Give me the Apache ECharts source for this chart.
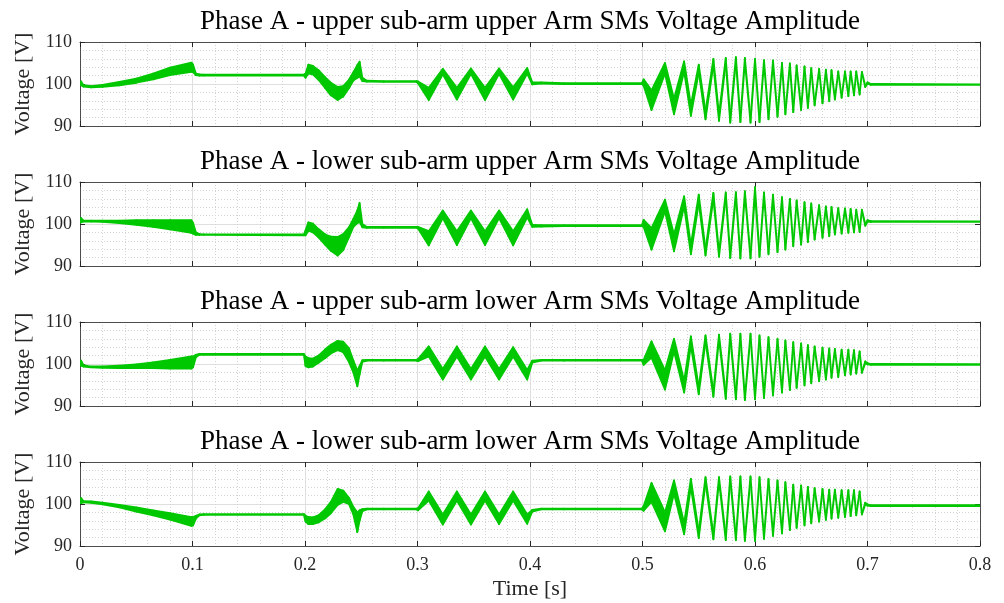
<!DOCTYPE html>
<html>
<head>
<meta charset="utf-8">
<script src="https://cdn.jsdelivr.net/npm/echarts@6/dist/echarts.min.js"></script>
<style>
html, body { margin: 0; padding: 0; background: #fff; }
#chart { width: 1004px; height: 603px; }
</style>
</head>
<body>
<div id="chart"></div>
<script>
// time keypoints (s), shared by the four panels: start ramp, 0.2 step, 0.3 step, 0.5 chirp (peaks/troughs), settle
var time = [
  0, 0.001, 0.003, 0.01, 0.02, 0.035, 0.05, 0.065, 0.08, 0.099, 0.1005, 0.103, 0.106, 0.11,
  0.199,
  0.2005, 0.203, 0.207, 0.212, 0.218, 0.223, 0.229, 0.234, 0.239, 0.243, 0.2465, 0.2485, 0.251, 0.255, 0.27,
  0.299, 0.3005, 0.31, 0.3225, 0.335, 0.3475, 0.36, 0.3725, 0.385, 0.3975, 0.402, 0.41, 0.43,
  0.4995, 0.501,
  0.508, 0.520, 0.528, 0.537, 0.543, 0.550, 0.556, 0.563, 0.568, 0.574,
  0.578, 0.583, 0.587, 0.591, 0.596, 0.600, 0.604, 0.608, 0.612, 0.616,
  0.620, 0.624, 0.627, 0.631, 0.634, 0.637, 0.641, 0.644, 0.647, 0.650,
  0.653, 0.657, 0.660, 0.663, 0.666, 0.668, 0.671, 0.674, 0.677, 0.680,
  0.683, 0.685, 0.688, 0.690, 0.693, 0.695,
  0.698, 0.700, 0.703, 0.8
];

var titles = [
  'Phase A - upper sub-arm upper Arm SMs Voltage Amplitude',
  'Phase A - lower sub-arm upper Arm SMs Voltage Amplitude',
  'Phase A - upper sub-arm lower Arm SMs Voltage Amplitude',
  'Phase A - lower sub-arm lower Arm SMs Voltage Amplitude'
];

var xTicks = [0, 0.1, 0.2, 0.3, 0.4, 0.5, 0.6, 0.7, 0.8];
var yTicks = [90, 100, 110];

// upper / lower edge of the green band (V)
var up1 = [
  100.3, 100.6, 99.7, 99.5, 99.8, 100.5, 101.3, 102.5, 103.9, 105.1, 104.6, 102.5, 102.3, 102.2,
  102.2,
  102.5, 104.6, 104.3, 103.3, 101.6, 100.3, 99.3, 99.5, 101.0, 102.8, 104.5, 105.3, 101.5, 100.8, 100.7,
  100.7, 100.6, 99.1, 103.6, 99.1, 103.7, 99.1, 103.7, 99.2, 103.8, 100.4, 100.4, 100.2,
  100.2, 101.1,
  98.5, 105.0, 96.5, 105.4, 95.0, 104.6, 93.5, 106.0, 92.8, 106.2,
  92.0, 106.4, 91.8, 106.2, 91.6, 106.0, 91.6, 105.7, 92.2, 105.6,
  92.8, 105.0, 93.3, 104.9, 93.8, 104.4, 94.2, 104.2, 94.6, 103.8,
  95.2, 103.6, 95.7, 103.4, 96.2, 103.3, 96.5, 103.0, 96.9, 103.0,
  97.3, 103.0, 97.5, 103.0, 97.7, 102.9,
  99.6, 100.4, 100.0, 99.9
];
var lo1 = [
  100.0, 99.7, 99.4, 99.2, 99.3, 99.7, 100.3, 101.1, 102.1, 102.9, 102.8, 102.1, 102.0, 102.0,
  102.0,
  101.5, 102.5, 102.3, 101.0, 99.0, 97.3, 96.2, 97.0, 99.0, 100.8, 101.5, 101.8, 100.7, 100.6, 100.5,
  100.5, 100.2, 96.2, 102.3, 96.3, 102.4, 96.2, 102.4, 96.3, 102.5, 99.9, 100.1, 100.0,
  100.0, 99.6,
  93.8, 102.5, 92.8, 103.0, 92.4, 102.8, 91.6, 104.5, 91.2, 105.0,
  90.8, 105.4, 90.9, 105.3, 90.8, 105.2, 90.9, 105.0, 91.6, 105.0,
  92.2, 104.4, 92.8, 104.4, 93.3, 104.0, 93.8, 103.8, 94.3, 103.5,
  94.9, 103.3, 95.4, 103.1, 95.9, 103.0, 96.3, 102.8, 96.7, 102.8,
  97.1, 102.8, 97.3, 102.8, 97.5, 102.7,
  99.3, 100.1, 99.8, 99.8
];

var up2 = [
  100.6, 101.4, 100.8, 100.8, 100.8, 100.8, 100.9, 100.9, 100.9, 100.9, 100.3, 98.0, 97.6, 97.5,
  97.5,
  98.5, 100.4, 100.1, 98.8, 97.5, 97.0, 96.9, 97.6, 99.2, 101.2, 103.2, 105.0, 100.0, 99.3, 99.3,
  99.3, 99.3, 98.3, 103.2, 98.3, 103.2, 98.3, 103.2, 98.3, 103.5, 99.8, 99.7, 99.7,
  99.7, 101.0,
  99.0, 105.8, 97.5, 106.6, 95.0, 107.0, 94.0, 107.4, 93.3, 107.5,
  92.8, 107.6, 92.5, 107.8, 92.4, 108.8, 92.8, 107.5, 93.3, 107.0,
  93.8, 106.4, 94.3, 106.0, 95.0, 105.6, 95.4, 105.2, 96.0, 104.9,
  96.6, 104.5, 97.0, 104.2, 97.3, 104.1, 97.7, 103.8, 97.9, 103.7,
  98.1, 103.6, 98.2, 103.4, 98.3, 103.4,
  100.0, 100.9, 100.7, 100.6
];
var lo2 = [
  100.4, 100.4, 100.6, 100.6, 100.5, 100.2, 99.8, 99.3, 98.7, 97.9, 97.7, 97.4, 97.4, 97.4,
  97.3,
  97.3, 98.4, 98.0, 96.8, 95.0, 93.6, 92.5, 93.8, 96.8, 99.3, 100.2, 100.5, 99.2, 99.1, 99.1,
  99.1, 98.9, 94.9, 101.4, 95.0, 101.4, 95.0, 101.4, 94.9, 101.6, 99.3, 99.4, 99.5,
  99.5, 99.3,
  93.9, 103.0, 93.5, 104.2, 92.8, 105.0, 92.5, 106.0, 92.2, 106.4,
  91.9, 106.6, 91.8, 106.9, 91.8, 107.2, 92.2, 106.8, 92.8, 106.4,
  93.3, 105.9, 93.9, 105.6, 94.7, 105.2, 95.1, 104.9, 95.7, 104.6,
  96.3, 104.2, 96.7, 103.9, 97.1, 103.8, 97.5, 103.6, 97.7, 103.5,
  97.9, 103.4, 98.0, 103.2, 98.1, 103.2,
  99.6, 100.5, 100.5, 100.5
];

var up3 = [
  100.2, 100.8, 99.7, 99.4, 99.4, 99.6, 99.9, 100.4, 101.0, 101.8, 101.8, 102.2, 102.4, 102.4,
  102.4,
  101.8, 101.4, 101.3, 102.0, 103.5, 104.6, 105.5, 105.3, 103.8, 100.8, 98.5, 99.5, 100.9, 101.0, 101.0,
  101.0, 101.2, 104.2, 98.8, 104.2, 98.8, 104.2, 98.8, 104.0, 98.6, 100.8, 101.0, 101.0,
  101.0, 101.0,
  105.4, 98.5, 106.0, 96.0, 106.6, 94.5, 106.8, 93.5, 107.0, 92.8,
  107.2, 92.4, 107.2, 92.1, 107.2, 92.2, 106.8, 92.4, 106.4, 92.9,
  106.0, 93.6, 105.6, 94.1, 105.2, 94.6, 104.9, 95.2, 104.5, 95.7,
  104.2, 96.2, 103.9, 96.6, 103.7, 96.9, 103.6, 97.1, 103.4, 97.5,
  103.4, 97.7, 103.3, 97.9, 103.0, 98.1,
  100.6, 100.2, 100.0, 99.95
];
var lo3 = [
  99.8, 99.6, 99.4, 99.2, 99.1, 99.0, 99.0, 99.0, 98.9, 98.9, 99.2, 101.6, 102.2, 102.2,
  102.2,
  99.5, 99.2, 99.4, 100.3, 101.4, 102.5, 103.3, 102.8, 100.5, 98.0, 94.7, 97.5, 100.5, 100.8, 100.8,
  100.8, 100.7, 101.8, 96.3, 101.8, 96.3, 101.8, 96.3, 101.8, 96.3, 100.3, 100.8, 100.8,
  100.8, 99.8,
  101.5, 93.9, 103.0, 93.2, 104.3, 92.8, 105.3, 92.2, 105.9, 91.7,
  106.3, 91.6, 106.5, 91.4, 106.6, 91.6, 106.2, 91.9, 105.9, 92.5,
  105.6, 93.2, 105.2, 93.8, 104.9, 94.3, 104.6, 94.9, 104.2, 95.4,
  103.9, 95.9, 103.6, 96.3, 103.4, 96.7, 103.3, 96.9, 103.2, 97.3,
  103.2, 97.5, 103.1, 97.7, 102.8, 97.9,
  100.2, 99.9, 99.8, 99.8
];

var up4 = [
  100.6, 101.4, 100.7, 100.6, 100.3, 99.8, 99.2, 98.5, 97.8, 96.9, 96.9, 97.2, 97.5, 97.6,
  97.6,
  97.2, 96.9, 96.8, 97.3, 98.8, 100.5, 103.6, 103.2, 101.5, 99.3, 98.0, 98.5, 98.8, 98.9, 98.9,
  98.9, 99.0, 103.0, 97.5, 103.0, 97.5, 103.0, 97.5, 103.0, 97.5, 98.6, 98.9, 98.9,
  98.9, 99.5,
  105.0, 98.0, 105.6, 95.5, 106.0, 93.5, 106.4, 92.8, 106.4, 92.3,
  106.6, 92.1, 106.6, 91.9, 106.6, 91.8, 106.4, 92.2, 106.0, 92.8,
  105.6, 93.4, 105.2, 94.1, 104.6, 94.6, 104.4, 95.2, 104.1, 95.7,
  103.8, 96.1, 103.6, 96.5, 103.4, 96.7, 103.4, 96.9, 103.3, 97.1,
  103.3, 97.3, 103.3, 97.5, 103.0, 97.7,
  100.3, 99.9, 99.7, 99.7
];
var lo4 = [
  100.2, 100.2, 100.4, 100.3, 99.9, 99.2, 98.2, 97.3, 96.3, 94.8, 94.9, 96.5, 97.3, 97.4,
  97.4,
  95.8, 95.2, 95.2, 95.6, 96.6, 97.8, 99.8, 100.5, 100.0, 97.5, 93.3, 96.0, 98.3, 98.7, 98.7,
  98.7, 98.5, 100.8, 95.1, 100.8, 95.1, 100.8, 95.2, 100.8, 95.3, 98.2, 98.7, 98.7,
  98.7, 98.4,
  100.5, 93.5, 102.5, 92.8, 104.0, 91.9, 105.0, 91.6, 105.4, 91.4,
  105.8, 91.4, 105.9, 91.2, 106.0, 91.2, 105.9, 91.7, 105.6, 92.4,
  105.2, 93.0, 104.9, 93.8, 104.3, 94.3, 104.1, 94.9, 103.8, 95.4,
  103.5, 95.8, 103.3, 96.2, 103.1, 96.5, 103.1, 96.7, 103.1, 96.9,
  103.1, 97.1, 103.1, 97.3, 102.8, 97.5,
  99.9, 99.6, 99.5, 99.5
];

var uppers = [up1, up2, up3, up4];
var lowers = [lo1, lo2, lo3, lo4];

var GREEN = '#00c800';
var FONT = '"Liberation Serif", "DejaVu Serif", serif';
var tops = [42, 182, 322, 462];

var option = {
  animation: false,
  backgroundColor: '#ffffff',
  title: [], grid: [], xAxis: [], yAxis: [], series: []
};

function bandItem(params, api) {
  var k = params.dataIndexInside;
  if (k === 0) return null;
  var a1 = api.coord([api.value(0, k - 1), api.value(1, k - 1)]);
  var a2 = api.coord([api.value(0, k), api.value(1, k)]);
  var b2 = api.coord([api.value(0, k), api.value(2, k)]);
  var b1 = api.coord([api.value(0, k - 1), api.value(2, k - 1)]);
  return {
    type: 'polygon',
    shape: { points: [a1, a2, b2, b1] },
    style: { fill: GREEN, stroke: GREEN, lineWidth: 1.8, lineJoin: 'round' }
  };
}

for (var i = 0; i < 4; i++) {
  var last = (i === 3);
  option.title.push({
    text: titles[i], left: 530, top: tops[i] - 34, textAlign: 'center', padding: 0,
    textStyle: { fontFamily: FONT, fontWeight: 'normal', fontSize: 27, color: '#000' }
  });
  option.grid.push({ left: 80, right: 24, top: tops[i], height: 84 });

  // bottom x axis (labels only on last panel)
  option.xAxis.push({
    gridIndex: i, type: 'value', position: 'bottom', min: 0, max: 0.8, interval: 0.1,
    axisLine: { show: true, onZero: false, lineStyle: { color: '#4d4d4d', width: 1 } },
    axisTick: { show: true, inside: true, length: 5, lineStyle: { color: '#262626' } },
    axisLabel: {
      show: last, margin: 10, fontFamily: FONT, fontSize: 18, color: '#262626',
      formatter: function (v) { return xTicks.indexOf(Math.round(v * 10) / 10) >= 0 ? String(Math.round(v * 10) / 10) : ''; }
    },
    splitLine: { show: true, lineStyle: { color: '#dfdfdf', width: 1 } },
    minorTick: { show: false, splitNumber: 5 },
    minorSplitLine: { show: true, lineStyle: { color: '#d4d4d4', width: 1, type: [1, 2] } },
    name: last ? 'Time [s]' : '', nameLocation: 'middle', nameGap: 32,
    nameTextStyle: { fontFamily: FONT, fontSize: 22, color: '#262626' }
  });
  // top x axis: box edge + ticks
  option.xAxis.push({
    gridIndex: i, type: 'value', position: 'top', min: 0, max: 0.8, interval: 0.1,
    axisLine: { show: true, onZero: false, lineStyle: { color: '#4d4d4d', width: 1 } },
    axisTick: { show: true, inside: true, length: 5, lineStyle: { color: '#262626' } },
    axisLabel: { show: false }, splitLine: { show: false }
  });
  // left y axis
  option.yAxis.push({
    gridIndex: i, type: 'value', position: 'left', min: 90, max: 110, interval: 10,
    axisLine: { show: true, onZero: false, lineStyle: { color: '#4d4d4d', width: 1 } },
    axisTick: { show: true, inside: true, length: 5, lineStyle: { color: '#262626' } },
    axisLabel: {
      margin: 8, fontFamily: FONT, fontSize: 18, color: '#262626',
      formatter: function (v) { return yTicks.indexOf(v) >= 0 ? String(v) : ''; }
    },
    splitLine: { show: true, lineStyle: { color: '#dfdfdf', width: 1 } },
    minorTick: { show: false, splitNumber: 5 },
    minorSplitLine: { show: true, lineStyle: { color: '#d4d4d4', width: 1, type: [1, 2] } },
    name: 'Voltage [V]', nameLocation: 'middle', nameGap: 39, nameRotate: 90,
    nameTextStyle: { fontFamily: FONT, fontSize: 22, color: '#262626' }
  });
  // right y axis: box edge + ticks
  option.yAxis.push({
    gridIndex: i, type: 'value', position: 'right', min: 90, max: 110, interval: 10,
    axisLine: { show: true, onZero: false, lineStyle: { color: '#4d4d4d', width: 1 } },
    axisTick: { show: true, inside: true, length: 5, lineStyle: { color: '#262626' } },
    axisLabel: { show: false }, splitLine: { show: false }
  });

  var rows = [];
  for (var k = 0; k < time.length; k++) {
    rows.push([time[k], uppers[i][k], lowers[i][k]]);
  }
  option.series.push({
    type: 'custom', name: titles[i], xAxisIndex: 2 * i, yAxisIndex: 2 * i,
    renderItem: bandItem, data: rows, encode: { x: 0, y: [1, 2] }, clip: true, z: 5
  });
}

var myChart = echarts.init(document.getElementById('chart'), null, { renderer: 'canvas' });
myChart.setOption(option);
</script>
</body>
</html>
